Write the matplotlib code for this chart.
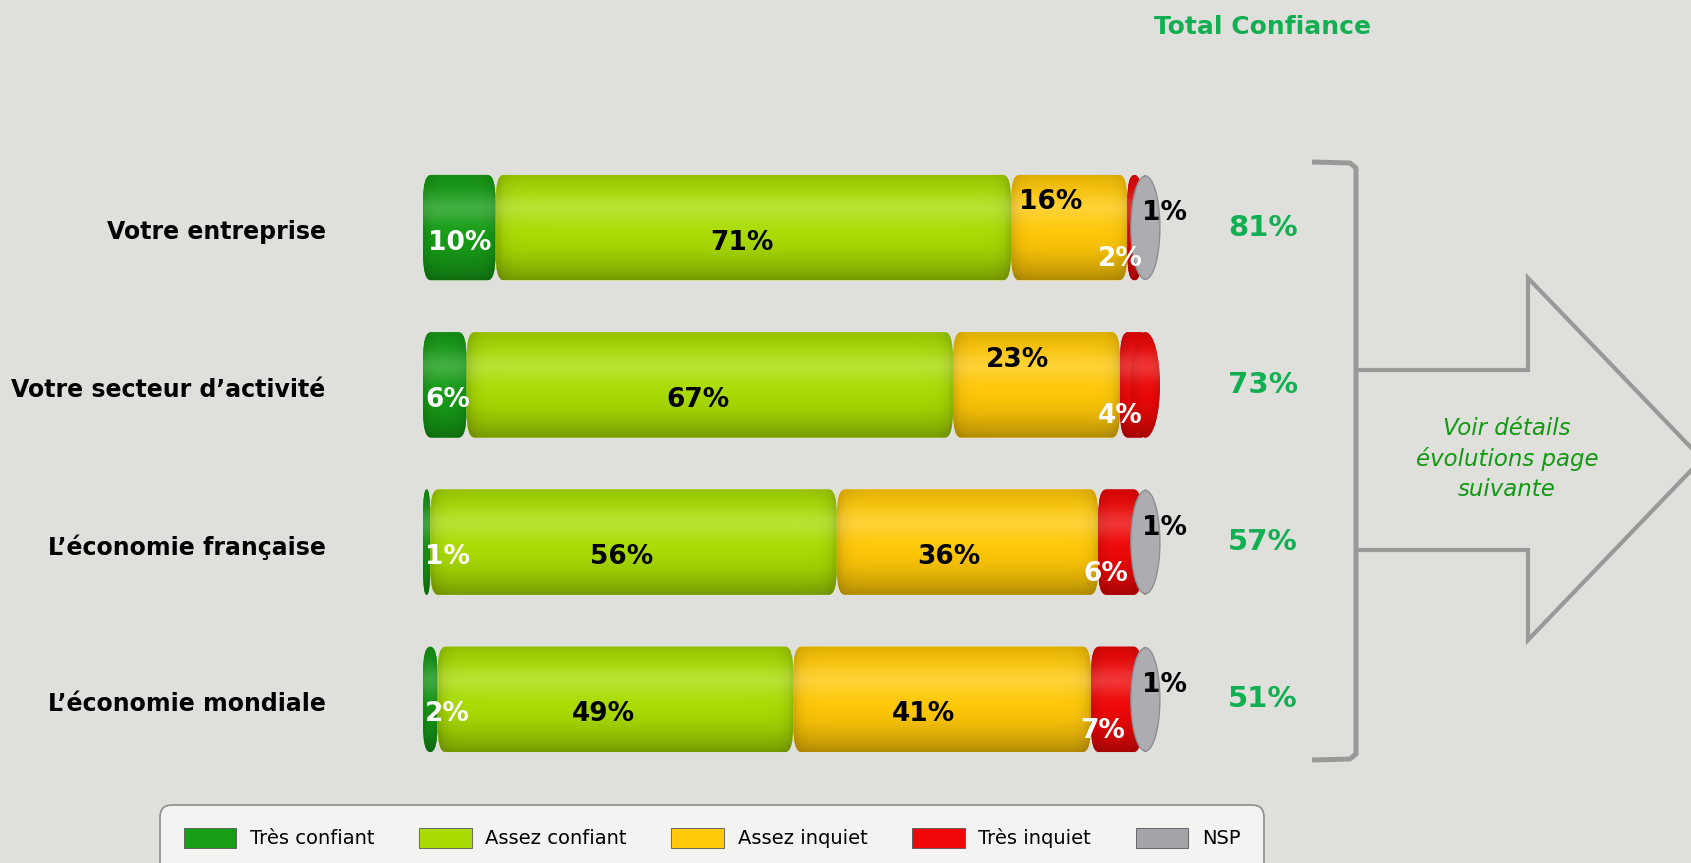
import numpy as np
import matplotlib.pyplot as plt
from matplotlib.patches import Ellipse, FancyBboxPatch, Patch
from matplotlib.colors import to_rgb

# Données
categories = ['Votre entreprise', 'Votre secteur d\u2019activité',
              'L\u2019économie française', 'L\u2019économie mondiale']
series = ['Très confiant', 'Assez confiant', 'Assez inquiet', 'Très inquiet', 'NSP']
tres_confiant = [10, 6, 1, 2]
assez_confiant = [71, 67, 56, 49]
assez_inquiet = [16, 23, 36, 41]
tres_inquiet = [2, 4, 6, 7]
nsp = [1, 0, 1, 1]
total_confiance = [81, 73, 57, 51]

colors = ['#179E17', '#AADC04', '#FFC808', '#F00808', '#A4A4A8']
label_colors = ['white', 'black', 'black', 'white', 'black']
green_txt = '#12AF52'
bg = '#DFE0DB'

W, H = 1691, 863
fig = plt.figure(figsize=(W / 100, H / 100), dpi=100, facecolor=bg)

# axes principal : x en %, y en lignes
px_unit = 7.26
x0_px = 423
xmin, xmax = -1, 104
top_px, bot_px = 149, 778
ax = fig.add_axes([(x0_px + xmin * px_unit) / W, 1 - bot_px / H,
                   (xmax - xmin) * px_unit / W, (bot_px - top_px) / H])
ax.set_facecolor('none')
ax.axis('off')

bar_h = 0.67
y = np.arange(len(categories))
values = [tres_confiant, assez_confiant, assez_inquiet, tres_inquiet, nsp]


def shaded(color, l, r, yc, h, clip, z):
    # dégradé léger pour l'effet cylindre
    c = np.array(to_rgb(color))
    t = np.linspace(0, 1, 90)[:, None]
    xs = np.linspace(l, r, 120)[None, :]
    vert = 1.0 - 0.30 * np.clip((t - 0.5) / 0.5, 0, 1) ** 2 - 0.12 * np.clip((0.35 - t) / 0.35, 0, 1) ** 2
    d = np.minimum(xs - l, r - xs)
    hfac = 1.0 - 0.15 * np.exp(-d / 0.9)
    rgb = c[None, None, :] * (vert * hfac)[:, :, None]
    w = 0.18 * np.exp(-((t - 0.32) / 0.14) ** 2) * np.ones_like(xs)
    rgb = rgb * (1 - w[:, :, None]) + w[:, :, None]
    im = ax.imshow(np.clip(rgb, 0, 1), extent=(l, r, yc + h / 2, yc - h / 2),
                   aspect='auto', interpolation='bilinear', zorder=z)
    im.set_clip_path(clip)


left = np.zeros(len(categories))
z = 2.0
for k, (name, vals) in enumerate(zip(series, values)):
    vals = np.array(vals, dtype=float)
    bars = ax.barh(y, vals, left=left, height=bar_h, color=colors[k], linewidth=0)
    for i, b in enumerate(bars):
        b.set_visible(False)
        if vals[i] <= 0:
            continue
        bx, by, bw, bh = b.get_x(), b.get_y(), b.get_width(), b.get_height()
        rx = min(1.1, bw / 2)
        ry = min(0.17, bh / 2)
        seg = FancyBboxPatch((bx, by), bw, bh, boxstyle=f'round,pad=0,rounding_size={rx}',
                             mutation_aspect=ry / rx, facecolor=colors[k], lw=0, zorder=z)
        ax.add_patch(seg)
        shaded(colors[k], bx, bx + bw, y[i], bh, seg, z + 0.01)
    z += 0.1
    left = left + vals

# bout des cylindres : face grise (NSP) ou bout arrondi rouge
for i in range(len(categories)):
    if nsp[i] > 0:
        face = Ellipse((left[i] - 0.5, y[i]), 4.0, bar_h * 0.98, facecolor='#ADADB1',
                       edgecolor='#8E8E92', lw=1.0, zorder=3)
        ax.add_patch(face)
    else:
        cap = Ellipse((left[i] - 0.5, y[i]), 4.0, bar_h, facecolor=colors[3], lw=0, zorder=3)
        ax.add_patch(cap)
        shaded(colors[3], left[i] - 2.5, left[i] + 1.5, y[i], bar_h, cap, 3.01)

# étiquettes des valeurs
lab = dict(fontsize=19, fontweight='bold', ha='center', va='center', zorder=5, clip_on=False)
left = np.zeros(len(categories))
for k, vals in enumerate(values):
    for i, v in enumerate(vals):
        if v == 0:
            continue
        mid = left[i] + v / 2
        dy = 0.095
        if k == 0:
            xt = max(mid, 3.4)
        elif k == 1:
            xt = mid - 1.6
        elif k == 2:
            xt = mid - 2.6
            if v < 30:
                dy = -0.16
        elif k == 3:
            xt = mid - 1.9
            dy = 0.2
        else:
            xt = left[i] + v + 2.1
            dy = -0.09
        ax.text(xt, y[i] + dy, f'{v}%', color=label_colors[k], **lab)
    left = left + np.array(vals)

# catégories et total confiance
for i, cat in enumerate(categories):
    ax.text(-13.4, y[i] + 0.03, cat, ha='right', va='center', fontsize=17,
            fontweight='bold', color='black', clip_on=False)
    ax.text(115.7, y[i], f'{total_confiance[i]}%', ha='center', va='center', fontsize=21,
            fontweight='bold', color=green_txt, clip_on=False)

ax.set_xlim(xmin, xmax)
ax.set_ylim(len(categories) - 0.5, -0.5)

# calque en pixels pour accolade, flèche, titre, légende
ov = fig.add_axes([0, 0, 1, 1], zorder=-1)
ov.set_xlim(0, W)
ov.set_ylim(H, 0)
ov.axis('off')
ov.set_facecolor('none')

ov.text(1263, 27, 'Total Confiance', ha='center', va='center', fontsize=18,
        fontweight='bold', color=green_txt)

grey = '#999999'
ov.plot([1312, 1350, 1356, 1356, 1350, 1312], [162, 163, 168, 754, 759, 760],
        color=grey, lw=3.6, solid_capstyle='butt', solid_joinstyle='round')
ov.plot([1356, 1528, 1528, 1702, 1528, 1528, 1356],
        [370, 370, 278, 459, 640, 550, 550], color=grey, lw=3.0, solid_joinstyle='miter')
ov.text(1507, 459, 'Voir détails\névolutions page\nsuivante', ha='center', va='center',
        fontsize=16.5, style='italic', color='#119911', linespacing=1.4)

box = FancyBboxPatch((160, 805), 1104, 120, boxstyle='round,pad=0,rounding_size=12',
                     facecolor='#F3F3F1', edgecolor='#8C8C8C', lw=1.2)
ov.add_patch(box)

handles = [Patch(facecolor=c, edgecolor='#555555', lw=0.6) for c in colors]
fig.legend(handles=handles, labels=series, ncol=5, loc='center',
           bbox_to_anchor=(712 / W, 1 - 838 / H), frameon=False, fontsize=14,
           handlelength=2.7, handleheight=1.2, handletextpad=0.7, columnspacing=2.3)

fig.savefig('out.png', dpi=100, facecolor=bg)
